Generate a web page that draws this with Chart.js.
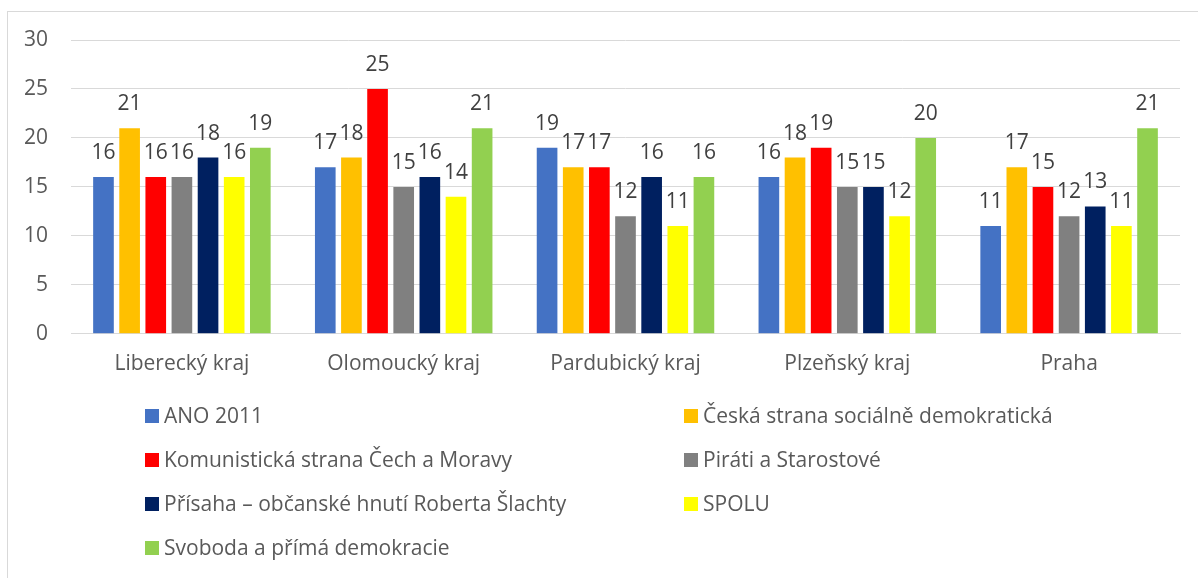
<!DOCTYPE html>
<html lang="cs">
<head>
    <meta charset="UTF-8">
    <title>Kraje – strany</title>
    <script src="https://cdn.jsdelivr.net/npm/chart.js"></script>
    <style>
        body { margin: 0; background: #fff; overflow: hidden; }
        #frame { position: absolute; left: 7px; top: 11px; width: 1200px; height: 580px; border: 1px solid #d9d9d9; }
        #wrap { position: absolute; left: 0; top: 0; width: 1198px; height: 578px; }
    </style>
</head>
<body>
    <div id="frame"></div>
    <div id="wrap"><canvas id="graf"></canvas></div>

    <script>
        // kategorie a hodnoty
        const kraje = ['Liberecký kraj', 'Olomoucký kraj', 'Pardubický kraj', 'Plzeňský kraj', 'Praha'];
        const strany = [
            'ANO 2011',
            'Česká strana sociálně demokratická',
            'Komunistická strana Čech a Moravy',
            'Piráti a Starostové',
            'Přísaha – občanské hnutí Roberta Šlachty',
            'SPOLU',
            'Svoboda a přímá demokracie'
        ];
        const ano = [16, 17, 19, 16, 11];
        const cssd = [21, 18, 17, 18, 17];
        const kscm = [16, 25, 17, 19, 15];
        const pirati = [16, 15, 12, 15, 12];
        const prisaha = [18, 16, 16, 15, 13];
        const spolu = [16, 14, 11, 12, 11];
        const spd = [19, 21, 16, 20, 21];
        const osaY = [0, 5, 10, 15, 20, 25, 30];

        const barvy = ['#4472C4', '#FFC000', '#FF0000', '#808080', '#002060', '#FFFF00', '#92D050'];
        const hodnoty = [ano, cssd, kscm, pirati, prisaha, spolu, spd];
        const pismo = '"Open Sans", sans-serif';

        // popisky nad sloupci
        const popisky = {
            id: 'popisky',
            afterDatasetsDraw(chart) {
                const ctx = chart.ctx;
                ctx.save();
                ctx.font = '21px ' + pismo;
                ctx.fillStyle = '#404040';
                ctx.textAlign = 'center';
                ctx.textBaseline = 'middle';
                chart.data.datasets.forEach((ds, i) => {
                    chart.getDatasetMeta(i).data.forEach((bar, j) => {
                        ctx.fillText(ds.data[j], bar.x, bar.y - 24);
                    });
                });
                ctx.restore();
            }
        };

        // legenda ve dvou sloupcích
        const legenda = {
            id: 'legenda',
            afterDraw(chart) {
                const ctx = chart.ctx;
                ctx.save();
                ctx.font = '21px ' + pismo;
                ctx.textBaseline = 'middle';
                chart.data.datasets.forEach((ds, i) => {
                    const x = i % 2 === 0 ? 145 : 684;
                    const y = 416 + Math.floor(i / 2) * 44;
                    ctx.fillStyle = ds.backgroundColor;
                    ctx.fillRect(x, y - 7, 14, 14);
                    ctx.fillStyle = '#595959';
                    ctx.fillText(ds.label, x + 19, y + 1);
                });
                ctx.restore();
            }
        };

        new Chart(document.getElementById('graf'), {
            type: 'bar',
            data: {
                labels: kraje,
                datasets: strany.map((s, i) => ({
                    label: s,
                    data: hodnoty[i],
                    backgroundColor: barvy[i],
                    categoryPercentage: 0.825,
                    barPercentage: 0.79
                }))
            },
            options: {
                responsive: true,
                maintainAspectRatio: false,
                animation: false,
                layout: { padding: { left: 0, right: 18, top: 40, bottom: 191 } },
                plugins: { legend: { display: false }, tooltip: { enabled: false } },
                scales: {
                    x: {
                        afterFit(axis) { axis.paddingLeft = 0; axis.paddingRight = 0; },
                        grid: { display: false },
                        border: { color: '#d9d9d9', width: 1 },
                        ticks: { color: '#595959', font: { family: pismo, size: 21 }, padding: 10 }
                    },
                    y: {
                        min: 0, max: 30,
                        afterBuildTicks(axis) { axis.ticks = osaY.map(v => ({ value: v })); },
                        afterFit(axis) { axis.width = 71; },
                        grid: { color: '#d9d9d9', lineWidth: 1, drawTicks: false },
                        border: { display: false },
                        ticks: { color: '#595959', font: { family: pismo, size: 21 }, padding: 23 }
                    }
                }
            },
            plugins: [popisky, legenda]
        });
    </script>
</body>
</html>
